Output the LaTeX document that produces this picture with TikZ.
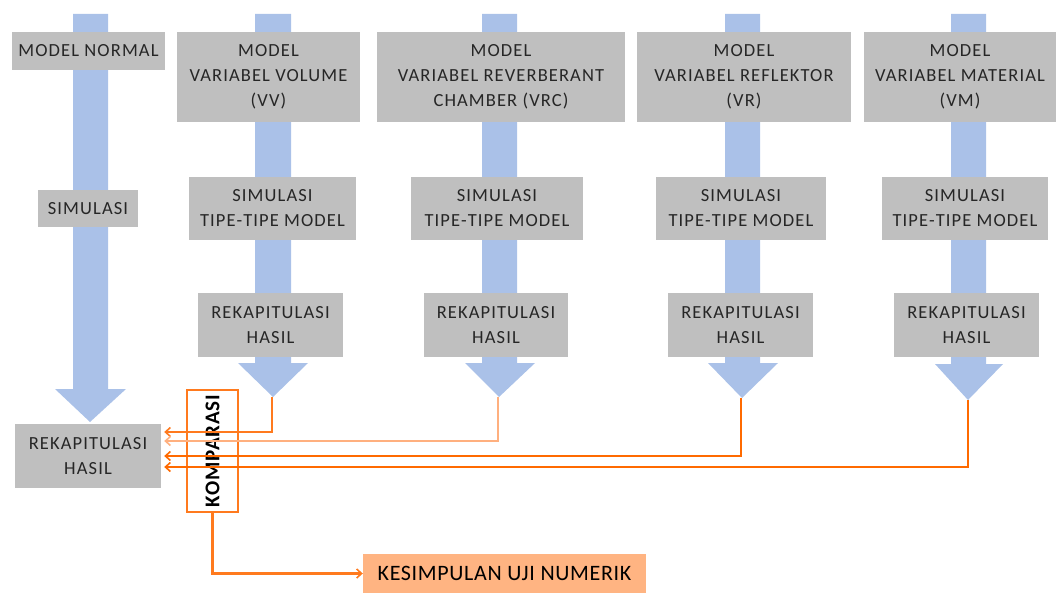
\documentclass[tikz,border=0pt]{standalone}
\usepackage{fontspec}
\setmainfont{Carlito}[LetterSpace=6]
\newfontfamily\kesfont{Carlito}[LetterSpace=3]
\newfontfamily\kompfont{Carlito}[LetterSpace=4]
\usetikzlibrary{arrows.meta,calc}
\definecolor{boxgray}{HTML}{BFBFBF}
\definecolor{shaftblue}{HTML}{AAC1E8}
\definecolor{orA}{HTML}{FF7A1E}
\definecolor{orB}{HTML}{FFB07F}
\definecolor{orC}{HTML}{FF6A00}
\definecolor{kesfill}{HTML}{FFB482}
\tikzset{
  gbox/.style={fill=boxgray, draw=none, align=center, inner sep=0pt, font=\fontsize{18.5}{25}\selectfont, text=black!85},
  bigarrow/.style={fill=shaftblue, draw=none},
  olink/.style={line width=2.4pt, -{Straight Barb[length=5pt,width=9pt,line width=1.6pt]}},
}
\begin{document}
\begin{tikzpicture}[x=1pt,y=-1pt]
\useasboundingbox (0,0) rectangle (1056,594);
% block arrows
\fill[bigarrow] (73,14) -- (108,14) -- (108,389) -- (126,389) -- (90,422) -- (55,389) -- (73,389) -- cycle;
\fill[bigarrow] (255,14) -- (291,14) -- (291,363) -- (308,363) -- (273,397) -- (238,363) -- (255,363) -- cycle;
\fill[bigarrow] (482,14) -- (517,14) -- (517,363) -- (535,363) -- (499,397) -- (465,363) -- (482,363) -- cycle;
\fill[bigarrow] (725,14) -- (760,14) -- (760,363) -- (778,363) -- (742,398) -- (708,363) -- (725,363) -- cycle;
\fill[bigarrow] (951,14) -- (986,14) -- (986,364) -- (1003,364) -- (968,400) -- (935,364) -- (951,364) -- cycle;
\coordinate (t2) at (272,397);
\coordinate (t3) at (498,397);
\coordinate (t4) at (741,398);
\coordinate (t5) at (968,400);
% top boxes
\node[gbox, minimum width=153, minimum height=38] (mn) at (88.5,51) {MODEL NORMAL};
\node[gbox, minimum width=183, minimum height=90] (mvv) at (268.5,77) {MODEL\\VARIABEL VOLUME\\(VV)};
\node[gbox, minimum width=248, minimum height=90] (mvrc) at (501,77) {MODEL\\VARIABEL REVERBERANT\\CHAMBER (VRC)};
\node[gbox, minimum width=214, minimum height=90] (mvr) at (744,77) {MODEL\\VARIABEL REFLEKTOR\\(VR)};
\node[gbox, minimum width=192, minimum height=90] (mvm) at (960,77) {MODEL\\VARIABEL MATERIAL\\(VM)};
% simulasi
\node[gbox, minimum width=100, minimum height=37] (s1) at (88,208.5) {SIMULASI};
\node[gbox, minimum width=167, minimum height=63] (s2) at (272.5,208.5) {SIMULASI\\TIPE-TIPE MODEL};
\node[gbox, minimum width=172, minimum height=63] (s3) at (497,208.5) {SIMULASI\\TIPE-TIPE MODEL};
\node[gbox, minimum width=170, minimum height=63] (s4) at (741,208.5) {SIMULASI\\TIPE-TIPE MODEL};
\node[gbox, minimum width=166, minimum height=63] (s5) at (965,208.5) {SIMULASI\\TIPE-TIPE MODEL};
% rekapitulasi
\node[gbox, minimum width=145, minimum height=64] (r2) at (270.5,325) {REKAPITULASI\\HASIL};
\node[gbox, minimum width=144, minimum height=64] (r3) at (496,325) {REKAPITULASI\\HASIL};
\node[gbox, minimum width=145, minimum height=64] (r4) at (740.5,325) {REKAPITULASI\\HASIL};
\node[gbox, minimum width=145, minimum height=64] (r5) at (966.5,325) {REKAPITULASI\\HASIL};
\node[gbox, minimum width=146, minimum height=64] (r1) at (88,456) {REKAPITULASI\\HASIL};
% komparasi
\node[draw=orA, line width=2.8pt, minimum width=51, minimum height=122, inner sep=0pt] (komp) at (212.5,451) {};
\node[rotate=90, font=\kompfont\fontsize{21}{21}\selectfont\bfseries, text=black] (kompt) at (komp.center) {KOMPARASI};
% kesimpulan
\node[fill=kesfill, minimum width=283, minimum height=39, inner sep=0pt, font=\kesfont\fontsize{22}{22}\selectfont, text=black] (kes) at (504.5,573.5) {KESIMPULAN UJI NUMERIK};
% orange connectors
\draw[olink, draw=orA] (t2) |- ($(r1.east)+(3,-24)$);
\draw[olink, draw=orB] (t3) |- ($(r1.east)+(3,-15)$);
\draw[olink, draw=orC] (t4) |- ($(r1.east)+(3,0)$);
\draw[olink, draw=orC] (t5) |- ($(r1.east)+(3,11)$);
\draw[olink, draw=orA] (komp.south) |- (kes.west);
\end{tikzpicture}
\end{document}
